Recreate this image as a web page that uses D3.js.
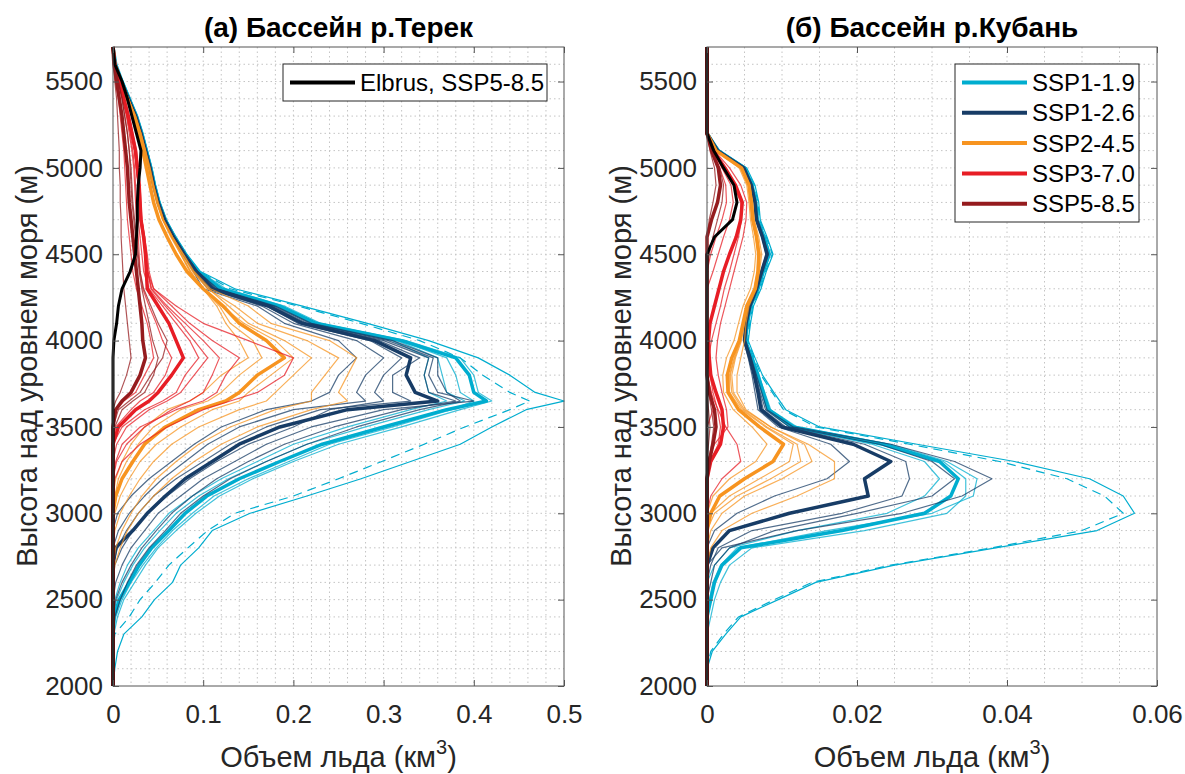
<!DOCTYPE html>
<html>
<head>
<meta charset="utf-8">
<script src="https://cdn.jsdelivr.net/npm/d3@7"></script>
<style>
body { margin: 0; background: #fff; }
svg { font-family: "Liberation Sans", Arial, Helvetica, sans-serif; }
</style>
</head>
<body>
<svg id="chart" width="1185" height="774"></svg>
<script>
//elevation levels (m) for each basin
var terekElev = [2000,2100,2200,2300,2400,2500,2600,2700,2800,2900,3000,3100,3200,3300,3400,3500,3600,3650,3700,3800,
	3900,4000,4100,4200,4300,4400,4500,4600,4700,4800,4900,5000,5100,5200,5300,5400,5500,5600,5700];
var kubanElev = [2000,2100,2200,2300,2400,2500,2600,2700,2800,2900,3000,3100,3200,3300,3400,3500,3600,3700,3800,3900,
	4000,4100,4200,4300,4400,4500,4600,4700,4800,4900,5000,5100,5200,5300,5400,5500,5600,5700];

var scenarioNames = ["SSP1-1.9", "SSP1-2.6", "SSP2-4.5", "SSP3-7.0", "SSP5-8.5"];
var scenarioColors = ["#00adcf", "#173c66", "#f79420", "#e71d25", "#951b1e"];

// ---- Terek: ice volume (km3) per elevation band ----
var terekInitial = [0,0.002,0.005,0.012,0.032,0.046,0.066,0.075,0.095,0.11, 0.152,0.215,0.275,0.33,0.385,0.42,0.458,0.5,0.468,0.44,
	0.405,0.35,0.282,0.21,0.135,0.097,0.082,0.07,0.059,0.052, 0.047,0.043,0.038,0.033,0.027,0.019,0.011,0.003,0];
var terekDashed = [0,0,0,0.002,0.018,0.03,0.047,0.062,0.083,0.105, 0.135,0.2,0.25,0.298,0.345,0.39,0.44,0.462,0.44,0.41,
	0.385,0.34,0.275,0.205,0.13,0.096,0.081,0.069,0.058,0.051, 0.046,0.042,0.037,0.032,0.026,0.018,0.01,0.003,0];

var terek119Mean = [0,0,0,0,0.001,0.007,0.018,0.029,0.043,0.062, 0.08,0.104,0.14,0.185,0.232,0.3,0.37,0.414,0.4,0.395,
	0.38,0.32,0.225,0.185,0.12, 0.094,0.08,0.068,0.058,0.051,0.046,0.042,0.037,0.032,0.026,0.018,0.01,0.003,0];
var terek119Runs = [
	[0,0,0,0.001,0.005,0.012,0.024,0.036,0.05,0.07, 0.092,0.118,0.155,0.2,0.25,0.32,0.385,0.42,0.405,0.4,
	 0.385,0.325,0.23,0.19,0.125, 0.096,0.081,0.069,0.059,0.052,0.047,0.043,0.038,0.033,0.027,0.019,0.011,0.003,0],
	[0,0,0,0,0,0.004,0.012,0.022,0.035,0.052, 0.07,0.095,0.128,0.17,0.215,0.28,0.35,0.39,0.37,0.365,
	 0.36,0.315,0.222,0.182,0.118, 0.093,0.079,0.067,0.057,0.05,0.045,0.041,0.036,0.031,0.025,0.017,0.009,0.002,0],
	[0,0,0,0,0.003,0.01,0.02,0.033,0.048,0.066, 0.088,0.112,0.15,0.195,0.24,0.31,0.375,0.4,0.385,0.38,
	 0.37,0.318,0.224,0.184,0.12, 0.094,0.08,0.068,0.058,0.051,0.046,0.042,0.037,0.032,0.026,0.018,0.01,0.003,0],
	[0,0,0,0,0,0.002,0.008,0.016,0.028,0.045, 0.062,0.088,0.12,0.16,0.2,0.26,0.33,0.37,0.35,0.345,
	 0.35,0.31,0.22,0.18,0.116, 0.094,0.08,0.068,0.058,0.051,0.046,0.042,0.037,0.032,0.026,0.018,0.01,0.003,0]
];
var terek126Mean = [0,0,0,0,0,0,0,0,0.003,0.022, 0.038,0.058,0.08,0.11,0.14,0.185,0.26,0.36,0.335,0.325,
	0.33,0.29,0.21,0.172,0.11, 0.092,0.079,0.067,0.057,0.05,0.045,0.041,0.036,0.031,0.025,0.017,0.009,0.002,0];
var terek126Runs = [
	[0,0,0,0,0,0,0.003,0.01,0.02,0.035, 0.05,0.075,0.1,0.135,0.17,0.22,0.3,0.4,0.36,0.35,
	 0.355,0.305,0.218,0.178,0.114, 0.093,0.079,0.067,0.057,0.05,0.045,0.041,0.036,0.031,0.025,0.017,0.009,0.002,0],
	[0,0,0,0,0,0,0,0,0,0.006, 0.018,0.035,0.055,0.08,0.105,0.14,0.2,0.28,0.27,0.28,
	 0.3,0.27,0.2,0.165,0.105, 0.09,0.078,0.066,0.056,0.05,0.045,0.041,0.036,0.031,0.025,0.017,0.009,0.002,0],
	[0,0,0,0,0.002,0.008,0.016,0.026,0.04,0.058, 0.075,0.1,0.13,0.17,0.215,0.27,0.34,0.385,0.37,0.36,
	 0.36,0.31,0.22,0.18,0.116, 0.094,0.08,0.068,0.058,0.051,0.046,0.042,0.037,0.032,0.026,0.018,0.01,0.003,0],
	[0,0,0,0,0,0,0,0.002,0.01,0.022, 0.038,0.06,0.085,0.115,0.15,0.2,0.24,0.3,0.29,0.3,
	 0.32,0.285,0.205,0.17,0.108, 0.091,0.078,0.066,0.056,0.05,0.045,0.041,0.036,0.031,0.025,0.017,0.009,0.002,0],
	[0,0,0,0,0,0,0,0,0,0, 0.005,0.02,0.04,0.065,0.09,0.12,0.17,0.22,0.24,0.25,
	 0.27,0.25,0.19,0.16,0.1, 0.089,0.077,0.065,0.056,0.049,0.045,0.04,0.036,0.031,0.025,0.017,0.009,0.002,0],
	[0,0,0,0,0,0,0,0,0.005,0.015, 0.028,0.045,0.07,0.1,0.13,0.17,0.23,0.33,0.31,0.31,
	 0.34,0.295,0.212,0.175,0.112, 0.092,0.079,0.067,0.057,0.05,0.045,0.041,0.036,0.031,0.025,0.017,0.009,0.002,0],
	[0,0,0,0,0,0.003,0.01,0.02,0.032,0.048, 0.065,0.088,0.115,0.15,0.19,0.245,0.32,0.38,0.35,0.345,
	 0.35,0.3,0.215,0.176,0.113, 0.094,0.08,0.068,0.058,0.051,0.046,0.042,0.037,0.032,0.026,0.018,0.01,0.003,0]
];
var terek245Mean = [0,0,0,0,0,0,0,0,0,0, 0,0.003,0.01,0.022,0.035,0.058,0.095,0.125,0.14,0.16,
	0.19,0.17,0.14,0.122,0.1, 0.082,0.07,0.06,0.051,0.045,0.041,0.037,0.033,0.028,0.023,0.016,0.009,0.002,0];
var terek245Runs = [
	[0,0,0,0,0,0,0,0,0,0.002, 0.008,0.018,0.03,0.045,0.065,0.095,0.14,0.17,0.18,0.2,
	 0.22,0.19,0.15,0.128,0.106, 0.089,0.078,0.066,0.056,0.05,0.045,0.041,0.036,0.031,0.025,0.017,0.009,0.002,0],
	[0,0,0,0,0,0,0,0,0,0, 0,0,0.003,0.01,0.02,0.035,0.06,0.085,0.1,0.12,
	 0.15,0.14,0.125,0.115,0.1, 0.085,0.075,0.064,0.055,0.048,0.044,0.039,0.035,0.03,0.024,0.016,0.008,0.002,0],
	[0,0,0,0,0,0,0,0.002,0.008,0.016, 0.028,0.045,0.065,0.09,0.12,0.16,0.22,0.26,0.25,0.26,
	 0.27,0.24,0.175,0.15,0.108, 0.09,0.078,0.066,0.056,0.05,0.045,0.041,0.036,0.031,0.025,0.017,0.009,0.002,0],
	[0,0,0,0,0,0,0,0,0,0, 0.002,0.008,0.018,0.03,0.048,0.075,0.11,0.14,0.15,0.175,
	 0.2,0.18,0.145,0.12,0.1, 0.086,0.076,0.065,0.055,0.049,0.044,0.04,0.035,0.03,0.024,0.016,0.008,0.002,0],
	[0,0,0,0,0,0,0,0,0.003,0.01, 0.02,0.032,0.048,0.07,0.095,0.13,0.18,0.22,0.22,0.235,
	 0.25,0.215,0.16,0.135,0.105, 0.088,0.077,0.066,0.056,0.049,0.045,0.04,0.036,0.031,0.025,0.017,0.009,0.002,0],
	[0,0,0,0,0,0,0,0,0,0, 0,0.002,0.006,0.015,0.028,0.045,0.075,0.105,0.12,0.14,
	 0.165,0.155,0.13,0.118,0.1, 0.086,0.075,0.065,0.055,0.049,0.044,0.04,0.035,0.03,0.024,0.016,0.008,0.002,0]
];
var terek370Mean = [0,0,0,0,0,0,0,0,0,0, 0,0,0,0,0,0.006,0.025,0.04,0.05,0.065,
	0.078,0.07,0.062,0.05,0.038, 0.037,0.036,0.034,0.031,0.03,0.029,0.027,0.025,0.021,0.017,0.012,0.007,0.002,0];
var terek370Runs = [
	[0,0,0,0,0,0,0,0,0,0, 0,0,0,0,0.004,0.015,0.04,0.06,0.075,0.09,
	 0.105,0.09,0.075,0.058,0.042, 0.039,0.037,0.035,0.032,0.031,0.03,0.028,0.026,0.022,0.018,0.013,0.008,0.002,0],
	[0,0,0,0,0,0,0,0,0,0, 0,0,0,0.003,0.01,0.03,0.07,0.1,0.115,0.125,
	 0.14,0.11,0.085,0.065,0.045, 0.04,0.038,0.035,0.032,0.03,0.028,0.026,0.024,0.02,0.016,0.011,0.006,0.001,0],
	[0,0,0,0,0,0,0,0,0,0, 0,0,0,0,0,0,0.004,0.012,0.025,0.035,
	 0.045,0.042,0.038,0.032,0.026, 0.022,0.02,0.018,0.016,0.015,0.014,0.013,0.012,0.01,0.008,0.006,0.003,0.001,0],
	[0,0,0,0,0,0,0,0,0,0, 0,0,0,0,0,0.01,0.035,0.055,0.07,0.08,
	 0.095,0.085,0.07,0.055,0.04, 0.034,0.032,0.03,0.028,0.026,0.025,0.024,0.022,0.019,0.015,0.011,0.006,0.001,0],
	[0,0,0,0,0,0,0,0,0,0, 0,0,0.002,0.01,0.03,0.06,0.1,0.13,0.16,0.19,
	 0.2,0.15,0.1,0.07,0.045, 0.038,0.036,0.034,0.031,0.029,0.028,0.026,0.024,0.02,0.016,0.011,0.006,0.001,0],
	[0,0,0,0,0,0,0,0,0,0, 0,0,0,0.004,0.015,0.035,0.065,0.085,0.1,0.11,
	 0.118,0.1,0.08,0.06,0.043, 0.038,0.036,0.033,0.03,0.029,0.028,0.026,0.024,0.02,0.016,0.011,0.006,0.001,0],
	[0,0,0,0,0,0,0,0,0,0, 0,0,0,0,0,0.003,0.02,0.03,0.045,0.058,
	 0.065,0.055,0.048,0.04,0.033, 0.03,0.029,0.028,0.026,0.025,0.024,0.023,0.021,0.018,0.015,0.011,0.006,0.001,0]
];
var terek585Mean = [0,0,0,0,0,0,0,0,0,0, 0,0,0,0,0,0,0.003,0.01,0.02,0.03,
	0.036,0.033,0.032,0.03,0.028, 0.026,0.024,0.022,0.02,0.018,0.017,0.016,0.014,0.012,0.01,0.007,0.004,0.001,0];
var terek585Runs = [
	[0,0,0,0,0,0,0,0,0,0, 0,0,0,0,0,0.002,0.01,0.022,0.035,0.045,
	 0.05,0.044,0.04,0.036,0.032, 0.029,0.027,0.025,0.023,0.021,0.02,0.019,0.018,0.016,0.013,0.01,0.006,0.002,0],
	[0,0,0,0,0,0,0,0,0,0, 0,0,0,0,0,0,0,0.003,0.008,0.015,
	 0.02,0.018,0.016,0.014,0.012, 0.011,0.01,0.009,0.009,0.008,0.008,0.007,0.007,0.006,0.005,0.004,0.002,0.001,0],
	[0,0,0,0,0,0,0,0,0,0, 0,0,0,0,0,0,0.006,0.018,0.03,0.042,
	 0.055,0.06,0.05,0.042,0.034, 0.03,0.028,0.026,0.024,0.022,0.021,0.02,0.018,0.016,0.013,0.01,0.006,0.002,0]
];
var terekElbrus = [0,0,0,0,0,0,0,0,0,0, 0,0,0,0,0,0,0,0,0,0,
	0,0.001,0.004,0.006,0.01, 0.019,0.025,0.026,0.027,0.027,0.028,0.03,0.031,0.026,0.021,0.016,0.01,0.002,0];

// ---- Kuban: ice volume (km3) per elevation band ----
var kubanInitial = [0,0,0.0007,0.0025,0.0045,0.0095,0.0145,0.025,0.0385,0.052, 0.057,0.0555,0.051,0.041,0.028,0.015,0.0105,0.0089,0.0074,0.0064,
	0.0055,0.0058,0.0062,0.0072,0.0079,0.0088,0.008,0.0071,0.0069,0.0064, 0.0053,0.0017,0,0,0,0,0,0];
var kubanDashed = [0,0,0.0005,0.0022,0.0042,0.009,0.014,0.0245,0.038,0.05, 0.0555,0.053,0.048,0.039,0.027,0.0145,0.0102,0.0087,0.0072,0.0063,
	0.0054,0.0057,0.0061,0.0071,0.0078,0.0087,0.0079,0.007,0.0068,0.0063, 0.0052,0.0016,0,0,0,0,0,0];

var kuban119Mean = [0,0,0,0,0,0.0005,0.001,0.002,0.0045,0.018, 0.029,0.0325,0.0335,0.031,0.0235,0.0115,0.0082,0.0075,0.0068,0.006,
	0.0051,0.0054,0.0058,0.0068,0.0075,0.0083,0.0076,0.0067,0.0065,0.006, 0.005,0.0015,0,0,0,0,0,0];
var kuban119Runs = [
	[0,0,0,0,0,0.0003,0.0008,0.0018,0.004,0.016, 0.03,0.0355,0.036,0.032,0.0245,0.012,0.0085,0.0077,0.0069,0.0061,
	 0.0052,0.0055,0.0059,0.0069,0.0076,0.0084,0.0077,0.0068,0.0066,0.0061, 0.0051,0.0015,0,0,0,0,0,0],
	[0,0,0,0,0,0,0,0.001,0.003,0.012, 0.024,0.029,0.031,0.029,0.022,0.011,0.008,0.0073,0.0066,0.0058,
	 0.005,0.0053,0.0057,0.0066,0.0073,0.0081,0.0075,0.0066,0.0064,0.0059, 0.0049,0.0014,0,0,0,0,0,0],
	[0,0,0,0,0.0005,0.001,0.0018,0.003,0.006,0.021, 0.032,0.0345,0.0345,0.0315,0.024,0.0118,0.0084,0.0076,0.0068,0.006,
	 0.0051,0.0054,0.0058,0.0068,0.0075,0.0083,0.0076,0.0067,0.0065,0.006, 0.005,0.0015,0,0,0,0,0,0]
];
var kuban126Mean = [0,0,0,0,0,0,0,0,0.0008,0.003, 0.011,0.0215,0.021,0.0245,0.0195,0.01,0.0072,0.0068,0.0063,0.0057,
	0.005,0.0052,0.0057,0.0066,0.0073,0.008,0.0074,0.0066,0.0064,0.0059, 0.0049,0.0014,0,0,0,0,0,0];
var kuban126Runs = [
	[0,0,0,0,0,0,0,0,0.002,0.012, 0.026,0.034,0.038,0.033,0.0245,0.0115,0.008,0.0073,0.0066,0.0059,
	 0.0051,0.0053,0.0058,0.0067,0.0074,0.0082,0.0075,0.0067,0.0065,0.006, 0.005,0.0015,0,0,0,0,0,0],
	[0,0,0,0,0,0,0,0,0,0.001, 0.004,0.009,0.016,0.019,0.0165,0.0095,0.0068,0.0064,0.006,0.0055,
	 0.0049,0.0051,0.0056,0.0065,0.0072,0.0079,0.0073,0.0065,0.0063,0.0058, 0.0048,0.0013,0,0,0,0,0,0],
	[0,0,0,0,0,0,0,0.0005,0.0015,0.006, 0.018,0.026,0.027,0.0265,0.021,0.0105,0.0075,0.007,0.0064,0.0058,
	 0.005,0.0052,0.0057,0.0066,0.0073,0.008,0.0074,0.0066,0.0064,0.0059, 0.0049,0.0014,0,0,0,0,0,0],
	[0,0,0,0,0,0,0.0005,0.001,0.003,0.009, 0.02,0.03,0.033,0.03,0.023,0.011,0.0078,0.0071,0.0065,0.0058,
	 0.005,0.0052,0.0057,0.0066,0.0073,0.008,0.0074,0.0066,0.0064,0.0059, 0.0049,0.0014,0,0,0,0,0,0]
];
var kuban245Mean = [0,0,0,0,0,0,0,0,0,0, 0.0005,0.0017,0.005,0.0088,0.0102,0.007,0.0042,0.0028,0.0027,0.0033,
	0.0043,0.0048,0.0053,0.0064,0.0068,0.0069,0.0066,0.0061,0.0059,0.0056, 0.0046,0.0012,0,0,0,0,0,0];
var kuban245Runs = [
	[0,0,0,0,0,0,0,0,0,0.0005, 0.002,0.005,0.01,0.014,0.013,0.0085,0.005,0.0035,0.0033,0.0038,
	 0.0046,0.005,0.0055,0.0065,0.0069,0.0071,0.0067,0.0062,0.006,0.0057, 0.0047,0.0013,0,0,0,0,0,0],
	[0,0,0,0,0,0,0,0,0,0, 0,0.0008,0.003,0.0065,0.008,0.006,0.0035,0.0022,0.0021,0.0026,
	 0.0036,0.0042,0.0048,0.0058,0.0063,0.0065,0.0062,0.0058,0.0056,0.0053, 0.0043,0.0011,0,0,0,0,0,0],
	[0,0,0,0,0,0,0,0,0.0005,0.002, 0.006,0.012,0.017,0.017,0.0135,0.0085,0.0052,0.004,0.004,0.0045,
	 0.005,0.0052,0.0056,0.0066,0.007,0.0073,0.0069,0.0063,0.0061,0.0057, 0.0047,0.0013,0,0,0,0,0,0],
	[0,0,0,0,0,0,0,0,0,0, 0.0005,0.003,0.007,0.011,0.0115,0.0078,0.0046,0.003,0.003,0.0036,
	 0.0044,0.0049,0.0054,0.0063,0.0067,0.0068,0.0065,0.006,0.0058,0.0055, 0.0045,0.0012,0,0,0,0,0,0],
	[0,0,0,0,0,0,0,0,0,0, 0.001,0.004,0.0085,0.0125,0.012,0.008,0.0048,0.0033,0.0031,0.0037,
	 0.0045,0.005,0.0055,0.0064,0.0068,0.007,0.0066,0.0061,0.0059,0.0056, 0.0046,0.0012,0,0,0,0,0,0]
];
var kuban370Mean = [0,0,0,0,0,0,0,0,0,0, 0,0,0,0.0005,0.0018,0.0022,0.002,0.0012,0.0005,0.0003,
	0.0002,0.0004,0.001,0.0016,0.0022,0.003,0.0039,0.0045,0.0047,0.0038, 0.0024,0.0008,0,0,0,0,0,0];
var kuban370Runs = [
	[0,0,0,0,0,0,0,0,0,0, 0,0,0,0,0.001,0.0028,0.0026,0.002,0.0015,0.0012,
	 0.0014,0.0018,0.0024,0.003,0.0036,0.0042,0.0048,0.0052,0.0053,0.0045, 0.003,0.001,0,0,0,0,0,0],
	[0,0,0,0,0,0,0,0,0,0, 0,0,0,0,0,0,0.0008,0.0006,0,0,
	 0,0,0,0,0.0008,0.0015,0.0022,0.003,0.0035,0.0032, 0.002,0.0007,0,0,0,0,0,0],
	[0,0,0,0,0,0,0,0,0,0, 0,0,0,0.0004,0.0015,0.0018,0.0014,0.0008,0.0004,0.0002,
	 0.0006,0.0012,0.0018,0.0023,0.003,0.0036,0.0042,0.0046,0.0045,0.0036, 0.0022,0.0007,0,0,0,0,0,0],
	[0,0,0,0,0,0,0,0,0,0, 0,0.0005,0.002,0.0045,0.004,0.0025,0.0015,0.0005,0,0,
	 0,0,0,0,0,0.0005,0.0012,0.002,0.0026,0.0025, 0.0017,0.0006,0,0,0,0,0,0]
];
var kuban585Mean = [0,0,0,0,0,0,0,0,0,0, 0,0,0,0.0003,0.0008,0.0012,0.001,0.0003,0,0,
	0,0,0,0,0,0,0,0.0006,0.0014,0.0018, 0.0015,0.0006,0,0,0,0,0,0];
var kuban585Runs = [
	[0,0,0,0,0,0,0,0,0,0, 0,0,0,0.0002,0.0006,0.0009,0.0006,0.0002,0,0,
	 0,0,0,0,0,0.0003,0.0008,0.0014,0.002,0.0022, 0.0017,0.0006,0,0,0,0,0,0],
	[0,0,0,0,0,0,0,0,0,0, 0,0,0,0,0.0002,0.0004,0.0002,0,0,0,
	 0,0,0,0,0,0,0,0.0003,0.0008,0.0012, 0.001,0.0004,0,0,0,0,0,0]
];
var kubanElbrus = [0,0,0,0,0,0,0,0,0,0, 0,0,0,0,0,0,0,0,0,0,
	0,0,0,0,0,0,0.001,0.0034,0.004,0.0036, 0.0022,0.0009,0,0,0,0,0,0];

var svg = d3.select("#chart");
var txtColor = "#262626";

function drawPanel(p) {
	var g = svg.append("g");
	var x = d3.scaleLinear().domain([0, p.xMax]).range([p.left, p.right]);
	var y = d3.scaleLinear().domain([2000, 5700]).range([686, 47]);

	//dotted grid, every minor step
	var nx = Math.round(p.xMax / p.xMinor);
	g.append("g").selectAll("line")
		.data(d3.range(1, nx).map(function(i) { return i * p.xMinor; }))
		.enter().append("line")
		.attr("x1", function(d) { return x(d); }).attr("x2", function(d) { return x(d); })
		.attr("y1", 47).attr("y2", 686)
		.attr("stroke", "#c4c4c4").attr("stroke-dasharray", "1.5,3");
	g.append("g").selectAll("line")
		.data(d3.range(2100, 5700, 100))
		.enter().append("line")
		.attr("y1", function(d) { return y(d); }).attr("y2", function(d) { return y(d); })
		.attr("x1", p.left).attr("x2", p.right)
		.attr("stroke", "#c4c4c4").attr("stroke-dasharray", "1.5,3");

	//all the profiles
	var line = d3.line()
		.x(function(d) { return x(d[1]); })
		.y(function(d) { return y(d[0]); });

	p.series.forEach(function(s) {
		if (s.values.length != p.elev.length) throw new Error("bad length " + s.values.length);
		g.append("path")
			.datum(p.elev.map(function(h, i) { return [h, s.values[i]]; }))
			.attr("d", line)
			.attr("fill", "none")
			.attr("stroke", s.color)
			.attr("stroke-width", s.width)
			.attr("stroke-opacity", s.opacity || 1)
			.attr("stroke-dasharray", s.dash || null)
			.attr("stroke-linejoin", "round");
	});

	//axes, ticks pointing inside the box
	var xt = d3.range(0, Math.round(p.xMax / p.xMajor) + 1).map(function(i) { return i * p.xMajor; });
	var yt = d3.range(2000, 5600, 500);
	var fmt = d3.format("~g");

	var ax = g.append("g").attr("transform", "translate(0,686)")
		.call(d3.axisBottom(x).tickValues(xt).tickFormat(fmt).tickSizeInner(-6).tickSizeOuter(0).tickPadding(19));
	var axTop = g.append("g").attr("transform", "translate(0,47)")
		.call(d3.axisTop(x).tickValues(xt).tickFormat("").tickSizeInner(-6).tickSizeOuter(0));
	var ay = g.append("g").attr("transform", "translate(" + p.left + ",0)")
		.call(d3.axisLeft(y).tickValues(yt).tickFormat(d3.format("d")).tickSizeInner(-6).tickSizeOuter(0).tickPadding(10));
	var ayR = g.append("g").attr("transform", "translate(" + p.right + ",0)")
		.call(d3.axisRight(y).tickValues(yt).tickFormat("").tickSizeInner(-6).tickSizeOuter(0));
	[ax, axTop, ay, ayR].forEach(function(a) {
		a.select(".domain").remove();
		a.selectAll(".tick line").attr("stroke", "#555");
		a.selectAll(".tick text").attr("fill", txtColor).style("font-size", "26px")
			.style("font-family", "'Liberation Sans', Arial, sans-serif");
	});
	ax.selectAll(".tick text").attr("dy", "0.71em");

	g.append("rect")
		.attr("x", p.left).attr("y", 47)
		.attr("width", p.right - p.left).attr("height", 639)
		.attr("fill", "none").attr("stroke", "#555").attr("stroke-width", 1);

	//title and axis labels
	g.append("text")
		.attr("x", (p.left + p.right) / 2).attr("y", 37)
		.attr("text-anchor", "middle")
		.style("font-size", "28px").style("font-weight", "bold")
		.attr("fill", "#000")
		.text(p.title);

	var xl = g.append("text")
		.attr("x", (p.left + p.right) / 2).attr("y", 767)
		.attr("text-anchor", "middle")
		.style("font-size", "29px").attr("fill", txtColor);
	xl.append("tspan").text("Объем льда (км");
	xl.append("tspan").attr("dy", -13).style("font-size", "20px").text("3");
	xl.append("tspan").attr("dy", 13).text(")");

	g.append("text")
		.attr("transform", "translate(" + (p.left - 76) + "," + 366 + ") rotate(-90)")
		.attr("text-anchor", "middle")
		.style("font-size", "29px").attr("fill", txtColor)
		.text("Высота над уровнем моря (м)");

	//legend
	var lg = g.append("g");
	lg.append("rect")
		.attr("x", p.legend.x).attr("y", p.legend.y)
		.attr("width", p.legend.w).attr("height", p.legend.h)
		.attr("fill", "#fff").attr("stroke", "#262626").attr("stroke-width", 1);
	p.legend.items.forEach(function(it, i) {
		var yy = p.legend.y + 18.5 + i * 30.3;
		lg.append("line")
			.attr("x1", p.legend.x + 7).attr("x2", p.legend.x + 72)
			.attr("y1", yy).attr("y2", yy)
			.attr("stroke", it.color).attr("stroke-width", 4);
		lg.append("text")
			.attr("x", p.legend.x + 77).attr("y", yy)
			.attr("dy", "0.36em")
			.style("font-size", "24px").attr("fill", "#000")
			.text(it.name);
	});
}

//build the series list for a basin, thin runs first then the thick mean
function buildSeries(initial, dashed, means, runs, elbrus) {
	var out = [];
	out.push({values: initial, color: scenarioColors[0], width: 1.2});
	out.push({values: dashed, color: scenarioColors[0], width: 1.2, dash: "9,6"});
	for (var k = 0; k < means.length; k++) {
		runs[k].forEach(function(r) {
			out.push({values: r, color: scenarioColors[k], width: 1.2, opacity: 0.75});
		});
		out.push({values: means[k], color: scenarioColors[k], width: 3.5});
	}
	out.push({values: elbrus, color: "#000", width: 3});
	return out;
}

drawPanel({
	title: "(а) Бассейн р.Терек",
	left: 113, right: 564, xMax: 0.5, xMajor: 0.1, xMinor: 0.02,
	elev: terekElev,
	series: buildSeries(terekInitial, terekDashed,
		[terek119Mean, terek126Mean, terek245Mean, terek370Mean, terek585Mean],
		[terek119Runs, terek126Runs, terek245Runs, terek370Runs, terek585Runs],
		terekElbrus),
	legend: {x: 283, y: 64, w: 264, h: 37, items: [{name: "Elbrus, SSP5-8.5", color: "#000"}]}
});

drawPanel({
	title: "(б) Бассейн р.Кубань",
	left: 707, right: 1157, xMax: 0.06, xMajor: 0.02, xMinor: 0.005,
	elev: kubanElev,
	series: buildSeries(kubanInitial, kubanDashed,
		[kuban119Mean, kuban126Mean, kuban245Mean, kuban370Mean, kuban585Mean],
		[kuban119Runs, kuban126Runs, kuban245Runs, kuban370Runs, kuban585Runs],
		kubanElbrus),
	legend: {x: 955, y: 64, w: 184, h: 158, items: scenarioNames.map(function(n, i) {
		return {name: n, color: scenarioColors[i]};
	})}
});
</script>
</body>
</html>
